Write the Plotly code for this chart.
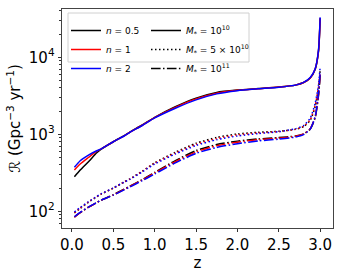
import plotly.graph_objects as go

# redshift grid
z = [0.03, 0.1, 0.2, 0.3, 0.35, 0.5, 0.63, 0.7, 0.85, 1.0, 1.25, 1.5, 1.75, 2.0,
     2.25, 2.5, 2.7, 2.8, 2.88, 2.94, 2.98, 3.0]

# M* = 1e10 (solid)
m10_n05 = [281, 344, 441, 575, 638, 800, 960, 1070, 1320, 1660, 2280, 2950, 3500, 3750,
           3920, 4100, 4350, 4700, 5400, 7000, 12000, 32000]
m10_n1 = [344, 411, 500, 603, 640, 800, 955, 1065, 1310, 1650, 2240, 2880, 3420, 3720,
          3910, 4100, 4350, 4700, 5400, 7050, 12200, 32000]
m10_n2 = [373, 454, 537, 612, 642, 800, 950, 1060, 1300, 1630, 2180, 2800, 3350, 3680,
          3890, 4090, 4350, 4720, 5450, 7100, 12500, 33000]

# M* = 5e10 (dotted)
m50_n05 = [95, 109, 131, 154, 166, 200, 240, 263, 332, 425, 585, 765, 910, 1010,
           1060, 1095, 1160, 1260, 1520, 2300, 4000, 7000]
m50_n1 = [96, 110, 132, 155, 167, 200, 240, 262, 330, 420, 570, 740, 880, 980,
          1040, 1085, 1160, 1270, 1550, 2400, 4100, 6500]
m50_n2 = [98, 112, 133, 156, 168, 201, 239, 260, 325, 410, 555, 715, 850, 950,
          1020, 1080, 1180, 1300, 1620, 2550, 4400, 7600]

# M* = 1e11 (dash-dot)
m100_n05 = [84, 96, 113, 130, 139, 164, 194, 212, 258, 320, 455, 615, 735, 815,
            870, 905, 950, 1010, 1170, 1650, 3200, 5800]
m100_n1 = [84, 96, 113, 130, 139, 163, 192, 210, 255, 315, 440, 590, 710, 790,
           850, 890, 940, 1010, 1180, 1700, 3300, 6200]
m100_n2 = [85, 97, 113, 130, 139, 162, 190, 207, 250, 305, 425, 565, 675, 755,
           820, 865, 920, 990, 1170, 1700, 3400, 6400]

n_labels = ["<i>n</i> = 0.5", "<i>n</i> = 1", "<i>n</i> = 2"]
m_labels = ["<i>M</i><sub>*</sub> = 10<sup>10</sup>",
            "<i>M</i><sub>*</sub> = 5 × 10<sup>10</sup>",
            "<i>M</i><sub>*</sub> = 10<sup>11</sup>"]
colors = ["#000000", "#ff0000", "#0000ff"]
dashes = ["solid", "1.5px,2.5px", "9.6px,2.4px,1.5px,2.4px"]

series = [
    [m10_n05, m10_n1, m10_n2],
    [m50_n05, m50_n1, m50_n2],
    [m100_n05, m100_n1, m100_n2],
]

fig = go.Figure()
for mi, group in enumerate(series):
    for ni, vals in enumerate(group):
        fig.add_trace(go.Scatter(
            x=z, y=vals, mode="lines", showlegend=False,
            line=dict(color=colors[ni], width=1.5, dash=dashes[mi], shape="spline", smoothing=0.6),
        ))

# legend entries
for ni in range(3):
    fig.add_trace(go.Scatter(x=[None], y=[None], mode="lines", name=n_labels[ni],
                             line=dict(color=colors[ni], width=1.5), legend="legend"))
for mi in range(3):
    fig.add_trace(go.Scatter(x=[None], y=[None], mode="lines", name=m_labels[mi],
                             line=dict(color="#000000", width=1.5, dash=dashes[mi]), legend="legend2"))

W, H = 342, 274
ml, mr, mt, mb = 62, 9, 9, 46
pw, ph = W - ml - mr, H - mt - mb

def px(x):
    return (x - ml) / pw

def py(y):
    return 1 - (y - mt) / ph

fig.add_shape(type="rect", xref="paper", yref="paper",
              x0=px(68), x1=px(249), y0=py(62), y1=py(13),
              line=dict(color="#d0d0d0", width=1), fillcolor="rgba(255,255,255,0.8)", layer="above")

legend_common = dict(bgcolor="rgba(0,0,0,0)", borderwidth=0,
                     font=dict(family="DejaVu Sans", size=9, color="#000"),
                     tracegroupgap=0, itemwidth=30, xanchor="left", yanchor="top")

minor_vals = [v * d for d in (10, 100, 1000, 10000) for v in range(2, 10)]
minor_vals = [v for v in minor_vals if 55 <= v <= 45000]

fig.update_layout(
    width=W, height=H,
    margin=dict(l=ml, r=mr, t=mt, b=mb, autoexpand=False),
    paper_bgcolor="white", plot_bgcolor="white",
    font=dict(family="DejaVu Sans", size=15, color="#000"),
    legend=dict(x=px(66), y=py(16), **legend_common),
    legend2=dict(x=px(146), y=py(16), **legend_common),
    xaxis=dict(
        range=[-0.12, 3.155], tickvals=[0, 0.5, 1.0, 1.5, 2.0, 2.5, 3.0],
        ticktext=["0.0", "0.5", "1.0", "1.5", "2.0", "2.5", "3.0"],
        ticks="outside", ticklen=3.5, tickwidth=0.8, tickcolor="#333",
        showline=True, linecolor="#444", linewidth=0.8, mirror=True,
        showgrid=False, zeroline=False, automargin=False,
        title=dict(text="z", font=dict(size=15), standoff=2),
        tickfont=dict(size=15),
    ),
    yaxis=dict(
        type="log", range=[1.783, 4.627],
        tickvals=[100, 1000, 10000],
        ticktext=["10<sup>2</sup>", "10<sup>3</sup>", "10<sup>4</sup>"],
        ticks="outside", ticklen=3.5, tickwidth=0.8, tickcolor="#333",
        minor=dict(tickvals=minor_vals, ticks="outside", ticklen=2, tickwidth=0.6, tickcolor="#333"),
        showline=True, linecolor="#444", linewidth=0.8, mirror=True,
        showgrid=False, zeroline=False, automargin=False,
        title=dict(text="ℛ (Gpc<sup>−3</sup> yr<sup>−1</sup>)", font=dict(size=15), standoff=4),
        tickfont=dict(size=15),
    ),
)

fig.write_html(
    "out.html",
    config={"displayModeBar": False, "responsive": False},
    post_script="document.body.style.margin='0';document.body.style.overflow='hidden';",
)
